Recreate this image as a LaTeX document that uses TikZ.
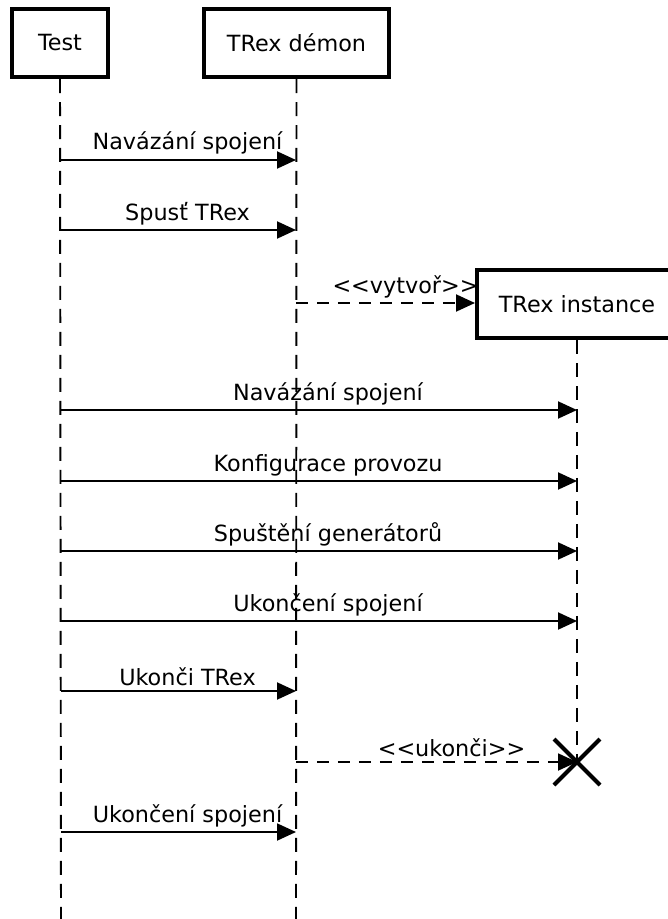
\documentclass[tikz,border=0pt]{standalone}
\usepackage{fontspec}
\setmainfont{DejaVu Sans}
\usetikzlibrary{arrows.meta}

\tikzset{
  actor/.style={draw, line width=2.3pt, minimum height=1.36cm, inner sep=0pt,
    font=\fontsize{12.7}{15}\selectfont},
  lifeline/.style={line width=1.1pt, dash pattern=on 0.28cm off 0.18cm},
  msg/.style={line width=1.1pt, -{Triangle[length=0.38cm,width=0.34cm]}},
  reply/.style={msg, dash pattern=on 0.24cm off 0.18cm},
  lbl/.style={above, inner sep=2.5pt, xshift=0.18cm, font=\fontsize{12.7}{15}\selectfont}
}

\begin{document}
\begin{tikzpicture}[x=0.02cm, y=-0.02cm]

  \useasboundingbox (0,0) rectangle (668,919);

  \node[actor, minimum width=1.92cm] (test) at (60,43) {Test};
  \node[actor, minimum width=3.70cm] (demon) at (296.5,43) {TRex démon};
  \node[actor, minimum width=4.00cm] (inst) at (577,304) {TRex instance};

  \coordinate (testend) at (61,919);
  \coordinate (demonend) at (296,919);
  \coordinate (kill) at (577,762);

  \draw[lifeline] (test.south) -- (testend);
  \draw[lifeline] (demon.south) -- (demonend);
  \draw[lifeline] (inst.south) -- (kill);

  % body points of the messages
  \foreach \n/\y in {1/160,2/230,3/303,4/410,5/481,6/551,7/621,8/691,9/762,10/832} {
    \coordinate (t\n) at (61,\y);
    \coordinate (d\n) at (296,\y);
    \coordinate (i\n) at (577,\y);
  }

  \draw[msg] (t1) -- node[lbl] {Navázání spojení} (d1);
  \draw[msg] (t2) -- node[lbl] {Spusť TRex} (d2);
  \draw[reply] (d3) -- node[lbl, xshift=0.22cm] {<\kern0pt<vytvoř>\kern0pt>} (inst.west |- d3);
  \draw[msg] (t4) -- node[lbl] {Navázání spojení} (i4);
  \draw[msg] (t5) -- node[lbl] {Konfigurace provozu} (i5);
  \draw[msg] (t6) -- node[lbl] {Spuštění generátorů} (i6);
  \draw[msg] (t7) -- node[lbl] {Ukončení spojení} (i7);
  \draw[msg] (t8) -- node[lbl] {Ukonči TRex} (d8);
  \draw[reply] (d9) -- node[lbl, xshift=0.12cm] {<\kern0pt<ukonči>\kern0pt>} (kill);
  \draw[msg] (t10) -- node[lbl] {Ukončení spojení} (d10);

  % destruction mark
  \draw[line width=2.3pt] ([shift={(-23,-23)}]kill) -- ([shift={(23,23)}]kill)
    ([shift={(-23,23)}]kill) -- ([shift={(23,-23)}]kill);

\end{tikzpicture}
\end{document}
